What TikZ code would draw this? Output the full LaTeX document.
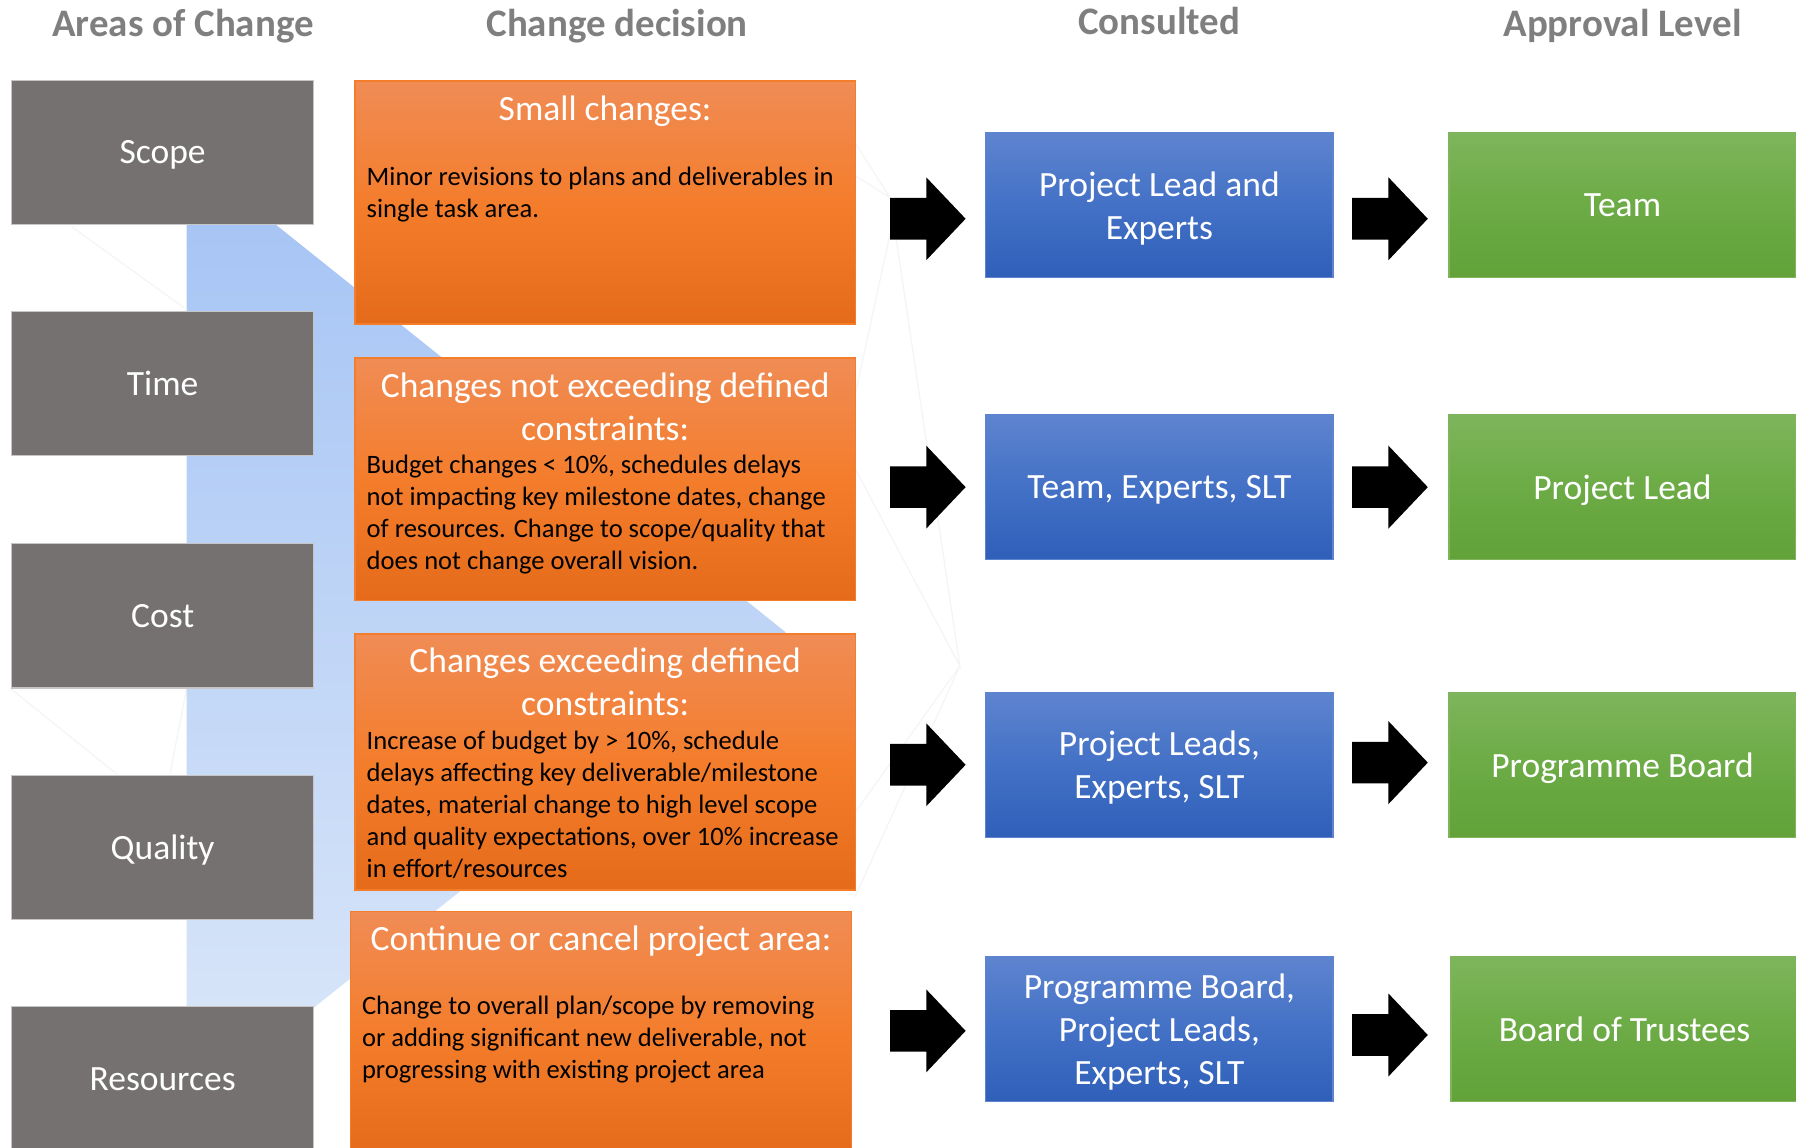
\documentclass[tikz,border=0pt]{standalone}
\usepackage{fontspec}
\setmainfont{Carlito}
\usetikzlibrary{shapes.arrows,positioning}

\definecolor{areagrey}{HTML}{757171}
\definecolor{titlegrey}{HTML}{7F7F7F}
\definecolor{orangetop}{HTML}{F08C55}
\definecolor{orangemid}{HTML}{F47D2C}
\definecolor{orangebot}{HTML}{E56B1A}
\definecolor{bluetop}{HTML}{5E84CF}
\definecolor{bluemid}{HTML}{4371C6}
\definecolor{bluebot}{HTML}{2F5FB9}
\definecolor{greentop}{HTML}{7EB55C}
\definecolor{greenmid}{HTML}{6CAB45}
\definecolor{greenbot}{HTML}{62A239}
\definecolor{bandtop}{HTML}{A3C2F4}
\definecolor{bandbot}{HTML}{DCE8F9}

\tikzset{every picture/.style={x=1pt,y=1pt}}
\tikzset{heading/.style={font=\fontsize{34}{41}\selectfont\bfseries, text=titlegrey, anchor=base, inner sep=0pt}}
\tikzset{area/.style={fill=areagrey, draw=gray!45, line width=1pt, minimum width=264pt, minimum height=126pt, text=white, text depth=0pt, font=\fontsize{31}{38}\selectfont}}
\tikzset{decision/.style={top color=orangetop, bottom color=orangebot, middle color=orangemid, draw=orangemid, line width=1pt, minimum width=436.7pt}}
\tikzset{dechead/.style={text=white, font=\fontsize{31}{38}\selectfont, align=center, anchor=base, inner sep=0pt}}
\tikzset{decbody/.style={text=black, font=\fontsize{23.2}{28}\selectfont, align=left, anchor=base west, inner sep=0pt}}
\tikzset{consult/.style={top color=bluetop, bottom color=bluebot, middle color=bluemid, draw=bluetop, line width=1pt, minimum width=303pt, minimum height=126.6pt, text=white, text depth=0pt, align=center, font=\fontsize{31}{37.5}\selectfont}}
\tikzset{approve/.style={top color=greentop, bottom color=greenbot, middle color=greenmid, draw=greentop, line width=1pt, minimum width=303pt, minimum height=126.6pt, text=white, text depth=0pt, align=center, font=\fontsize{31}{37.5}\selectfont}}
\tikzset{bigarrow/.style={single arrow, fill=black, inner xsep=0pt, inner ysep=18pt, minimum height=66pt, minimum width=72pt, single arrow head extend=18pt, single arrow tip angle=93, single arrow head indent=0pt, anchor=tip}}
\tikzset{faint/.style={draw=gray!8, line width=1.2pt}}

\begin{document}
\begin{tikzpicture}
    \useasboundingbox (0,0) rectangle (1568,1002);
    \clip (0,0) rectangle (1568,1002);
    \draw[faint] (746.5,877.4) -- (777,829.5) -- (746.5,848.7);
    \draw[faint] (777,829.5) -- (838,420.5) -- (746.5,593);
    \draw[faint] (777,797.5) -- (746.5,657);
    \draw[faint] (746.5,292.5) -- (838,420.5) -- (746.5,219);
    \draw[faint] (62.7,804) -- (160.4,733.5);
    \draw[faint] (8.7,401.3) -- (101.9,326.2);
    \draw[faint] (148.5,326.2) -- (163,401.4);
    \shade[top color=bandtop, bottom color=bandbot] (163,868) -- (686,450) -- (163,34) -- cycle;

    \node[heading] (t-area) at (159.8,970) {Areas of Change};
    \node[heading] (t-decision) at (538.8,970) {Change decision};
    \node[heading] (t-consult) at (1012,972) {Consulted};
    \node[heading] (t-approve) at (1416.5,970.5) {Approval Level};

    \node[area] (scope) at (142,869) {Scope};
    \node[area] (time) at (142,667) {Time};
    \node[area] (cost) at (142,464.4) {Cost};
    \node[area] (quality) at (142,262) {Quality};
    \node[area] (resources) at (142,60) {Resources};

    \node[decision, minimum height=212.2pt] (dec1) at (528.3,825.2) {};
    \node[decision, minimum height=211.5pt] (dec2) at (528.3,583.75) {};
    \node[decision, minimum height=223.5pt] (dec3) at (528.3,336.75) {};
    \node[decision, minimum height=212pt] (dec4) at (524.7,100) {};
    \node[dechead] (head1) at ([yshift=-35]dec1.north) {Small changes:};
    \node[decbody] (body1) at ([xshift=10.5,yshift=-119.9]dec1.north west) {Minor revisions to plans and deliverables in\\single task area.};
    \node[dechead] (head2) at ([yshift=-73]dec2.north) {Changes not exceeding defined\\constraints:};
    \node[decbody] (body2) at ([xshift=10.5,yshift=-185.1]dec2.north west) {Budget changes < 10\%, schedules delays\\not impacting key milestone dates, change\\of resources. Change to scope/quality that\\does not change overall vision.};
    \node[dechead] (head3) at ([yshift=-72]dec3.north) {Changes exceeding defined\\constraints:};
    \node[decbody] (body3) at ([xshift=10.5,yshift=-213.2]dec3.north west) {Increase of budget by > 10\%, schedule\\delays affecting key deliverable/milestone\\dates, material change to high level scope\\and quality expectations, over 10\% increase\\in effort/resources};
    \node[dechead] (head4) at ([yshift=-34.4]dec4.north) {Continue or cancel project area:};
    \node[decbody] (body4) at ([xshift=10,yshift=-146.3]dec4.north west) {Change to overall plan/scope by removing\\or adding significant new deliverable, not\\progressing with existing project area};

    \node[consult] (con1) at (1012.2,822.7) {Project Lead and\\Experts};
    \node[consult] (con2) at (1012.2,576.8) {Team, Experts, SLT};
    \node[consult] (con3) at (1012.2,334.3) {Project Leads,\\Experts, SLT};
    \node[consult] (con4) at (1012.2,103.6) {Programme Board,\\Project Leads,\\Experts, SLT};

    \node[approve] (app1) at (1416.5,822.7) {Team};
    \node[approve] (app2) at (1416.5,576.8) {Project Lead};
    \node[approve] (app3) at (1416.5,334.3) {Programme Board};
    \node[approve] (app4) at (1418.3,103.6) {Board of Trustees};

    \node[bigarrow] (arr1a) at (843.3,811) {};
    \node[bigarrow] (arr2a) at (843.3,576.7) {};
    \node[bigarrow] (arr3a) at (843.3,334.3) {};
    \node[bigarrow] (arr4a) at (843.3,102) {};
    \node[bigarrow] (arr1b) at (1246.8,811) {};
    \node[bigarrow] (arr2b) at (1246.8,576.7) {};
    \node[bigarrow] (arr3b) at (1246.8,336.2) {};
    \node[bigarrow] (arr4b) at (1246.8,98.4) {};
\end{tikzpicture}
\end{document}
